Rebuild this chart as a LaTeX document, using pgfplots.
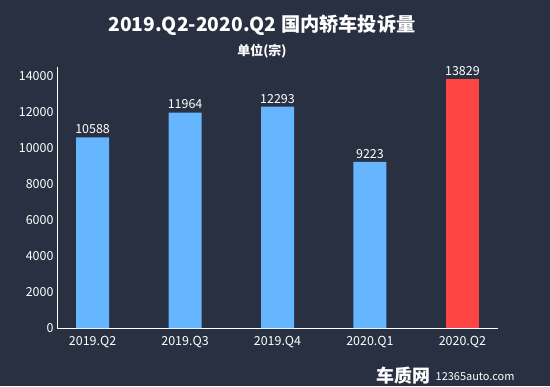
\documentclass[border=0pt]{standalone}
\usepackage{fontspec}
\setmainfont{Noto Sans CJK SC}
\usepackage{pgfplots}
\pgfplotsset{compat=1.18}
\definecolor{bg}{HTML}{283041}
\definecolor{barblue}{HTML}{66B5FF}
\definecolor{barred}{HTML}{FF4444}
\begin{document}
\begin{tikzpicture}[x=1bp,y=1bp]
\fill[bg] (0,0) rectangle (550,386);
\useasboundingbox (0,0) rectangle (550,386);
\node[white,font=\fontsize{19.3}{22}\selectfont\bfseries] at (262,360.5) {2019.Q2-2020.Q2 国内轿车投诉量};
\node[white,font=\fontsize{13}{15}\selectfont\bfseries] at (262,335) {单位(宗)};
\node[white,font=\fontsize{18}{20}\selectfont\bfseries\itshape,anchor=east] at (434,10) {车质网};
\node[white,font=\fontsize{11}{13}\selectfont,anchor=east] at (518,9) {12365auto.com};
\begin{axis}[
  at={(57bp,58bp)}, anchor=south west,
  scale only axis, width=441bp, height=261bp,
  xmin=-0.385, xmax=4.385, ymin=0, ymax=14500,
  axis x line=bottom, axis y line=left,
  axis line style={white, -, line width=0.8bp},
  xtick={0,1,2,3,4},
  xticklabels={2019.Q2,2019.Q3,2019.Q4,2020.Q1,2020.Q2},
  ytick={0,2000,4000,6000,8000,10000,12000,14000},
  major tick length=0pt,
  ticklabel style={white, font=\fontsize{12.5}{14}\selectfont},
  xticklabel style={yshift=-5bp},
  /pgf/number format/assume math mode=true,
  /pgf/number format/1000 sep={},
  scaled y ticks=false,
  ybar, bar width=33bp, bar shift=0pt,
  nodes near coords,
  nodes near coords style={white, font=\fontsize{12.5}{14}\selectfont, /pgf/number format/1000 sep={}, /pgf/number format/assume math mode=true},
  clip=false,
]
\addplot[fill=barblue, draw=none] coordinates {(0,10588) (1,11964) (2,12293) (3,9223)};
\addplot[fill=barred, draw=none] coordinates {(4,13829)};
\end{axis}
\end{tikzpicture}
\end{document}
